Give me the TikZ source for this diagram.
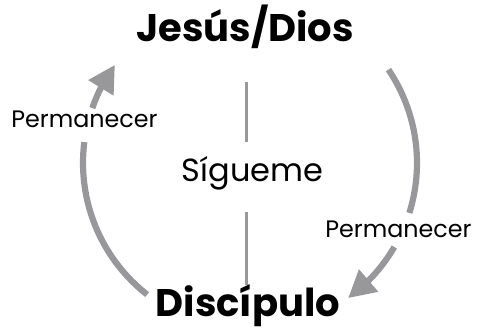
\documentclass[tikz,border=0pt]{standalone}
\usepackage{fontspec}
\setmainfont{Poppins}
\usetikzlibrary{arrows.meta,bending}
\definecolor{arcgray}{RGB}{152,152,155}
\tikzset{
  title/.style={anchor=base,inner sep=0pt,font=\fontsize{38.5}{44}\selectfont\bfseries},
  label/.style={anchor=base,inner sep=0pt,font=\fontsize{23.8}{28}\selectfont},
  mid/.style={anchor=base,inner sep=0pt,font=\fontsize{32}{38}\selectfont},
  arcline/.style={draw=arcgray,line width=6.2pt},
  arcarrow/.style={arcline,-{Triangle[length=27pt,width=28pt]}},
  vline/.style={draw=arcgray,line width=3pt}
}
\begin{document}
\begin{tikzpicture}[x=1pt,y=1pt]
\useasboundingbox (0,0) rectangle (477,331);
\coordinate (C) at (250,168);
% titles
\node[title] (jesus) at (245,289) {Jesús/Dios};
\node[title] (disc) at (248,14) {Discípulo};
\node[mid] (sig) at (252.5,149) {Sígueme};
\node[label] (permL) at (84.5,203) {Permanecer};
\node[label] (permR) at (398.5,93) {Permanecer};
% vertical line
\coordinate (v1) at (246.5,249);
\coordinate (v2) at (246.5,189);
\coordinate (v3) at (246.5,119);
\coordinate (v4) at (246.5,46);
\draw[vline] (v1) -- (v2);
\draw[vline] (v3) -- (v4);
% left arc
\path (C) ++(232:167) coordinate (la1);
\path (C) ++(160.8:167) coordinate (la2);
\draw[arcline] (la1) arc[start angle=232,end angle=172.8,radius=167];
\draw[arcarrow] (la2) arc[start angle=160.8,end angle=144,radius=167];
% right arc
\path (C) ++(34:167) coordinate (ra1);
\path (C) ++(-30.2:167) coordinate (ra2);
\draw[arcline] (ra1) arc[start angle=34,end angle=-17.4,radius=167];
\draw[arcarrow] (ra2) arc[start angle=-30.2,end angle=-54,radius=167];
\end{tikzpicture}
\end{document}
